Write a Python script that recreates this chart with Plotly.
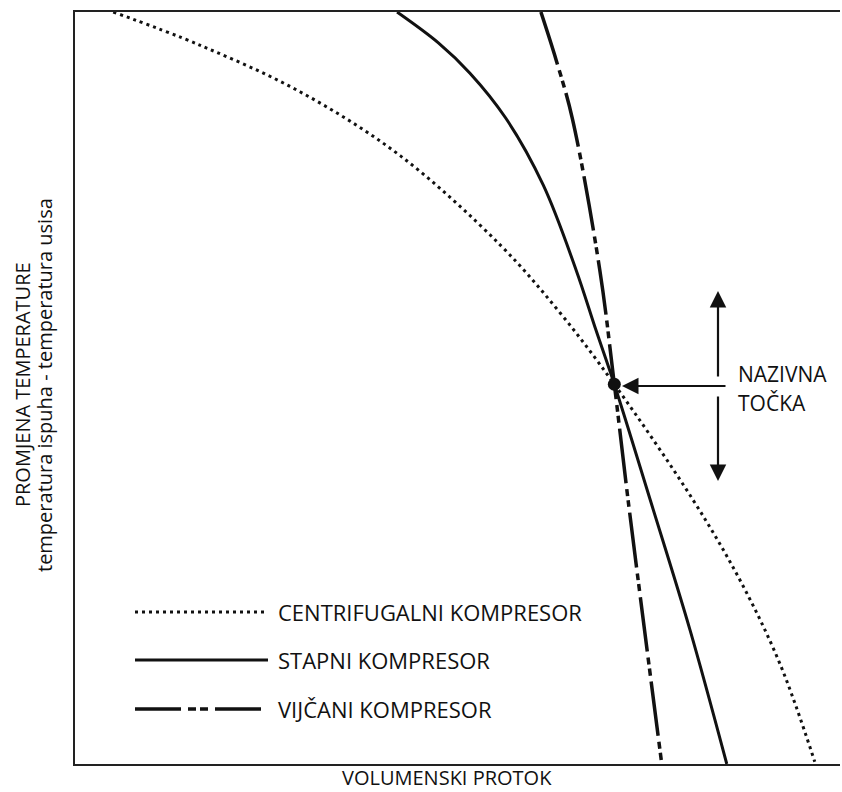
import plotly.graph_objects as go

# Data (arbitrary units, 0-10 on both axes)
centrifugal_x = [0.5, 1.63, 2.94, 4.25, 5.56, 6.34, 7.05, 8.08, 8.69, 9.22, 9.67]
centrifugal_y = [10.0, 9.56, 8.94, 8.09, 6.90, 6.00, 5.05, 3.51, 2.45, 1.32, 0.03]

stapni_x = [4.21, 4.75, 5.16, 5.63, 6.12, 6.55, 6.81, 7.05, 7.52, 8.04, 8.52]
stapni_y = [10.0, 9.59, 9.19, 8.59, 7.70, 6.57, 5.77, 5.05, 3.51, 1.78, 0.0]

vijcani_x = [6.09, 6.29, 6.50, 6.86, 7.05, 7.23, 7.67]
vijcani_y = [10.0, 9.36, 8.59, 6.57, 5.05, 3.51, 0.0]

rated_x = [7.05]
rated_y = [5.05]

legend_labels = ["CENTRIFUGALNI KOMPRESOR", "STAPNI KOMPRESOR", "VIJČANI KOMPRESOR"]
x_title = "VOLUMENSKI PROTOK"
y_title_1 = "PROMJENA TEMPERATURE"
y_title_2 = "temperatura ispuha - temperatura usisa"
point_label = ["NAZIVNA", "TOČKA"]

FONT = "Open Sans"
INK = "#111111"
DOT = "3px,4px"
DASHDOT = "55px,6px,7px,4px,7px,6px"
DASHDOT_LEG = "46px,7px,8px,4px,8px,7px"

fig = go.Figure()
fig.add_trace(go.Scatter(x=centrifugal_x, y=centrifugal_y, mode="lines",
                         line=dict(color=INK, width=3, dash=DOT, shape="spline"),
                         showlegend=False, hoverinfo="skip"))
fig.add_trace(go.Scatter(x=stapni_x, y=stapni_y, mode="lines",
                         line=dict(color=INK, width=3, shape="spline"),
                         showlegend=False, hoverinfo="skip"))
fig.add_trace(go.Scatter(x=vijcani_x, y=vijcani_y, mode="lines",
                         line=dict(color=INK, width=3.5, dash=DASHDOT, shape="spline"),
                         showlegend=False, hoverinfo="skip"))
fig.add_trace(go.Scatter(x=rated_x, y=rated_y, mode="markers",
                         marker=dict(color=INK, size=13),
                         showlegend=False, hoverinfo="skip"))

W, H = 842, 792
L, R, T, B = 75, 2, 12, 28
pw, ph = W - L - R, H - T - B


def px(xp):
    return (xp - L) / pw


def py(yp):
    return (H - B - yp) / ph


shapes = []
annotations = []
leg_rows = [612, 660, 709]
leg_dash = [DOT, "solid", DASHDOT_LEG]
leg_w = [3, 3, 3.5]
for lab, yrow, d, w in zip(legend_labels, leg_rows, leg_dash, leg_w):
    shapes.append(dict(type="line", xref="paper", yref="paper",
                       x0=px(135), x1=px(268), y0=py(yrow), y1=py(yrow),
                       line=dict(color=INK, width=w, dash=d)))
    annotations.append(dict(xref="paper", yref="paper", x=px(276), y=py(yrow),
                            text=lab, showarrow=False, xanchor="left", yanchor="middle",
                            font=dict(family=FONT, size=22, color=INK)))

# axis titles
annotations.append(dict(xref="paper", yref="paper", x=px(447), y=py(777),
                        text=x_title, showarrow=False, xanchor="center", yanchor="middle",
                        font=dict(family=FONT, size=20, color=INK)))
annotations.append(dict(xref="paper", yref="paper", x=px(23), y=py(385),
                        text=y_title_1, showarrow=False, textangle=-90,
                        xanchor="center", yanchor="middle",
                        font=dict(family=FONT, size=20, color=INK)))
annotations.append(dict(xref="paper", yref="paper", x=px(45), y=py(385),
                        text=y_title_2, showarrow=False, textangle=-90,
                        xanchor="center", yanchor="middle",
                        font=dict(family=FONT, size=20, color=INK)))

# rated point label
annotations.append(dict(xref="paper", yref="paper", x=px(736), y=py(374),
                        text=point_label[0], showarrow=False, xanchor="left", yanchor="middle",
                        font=dict(family=FONT, size=21, color=INK)))
annotations.append(dict(xref="paper", yref="paper", x=px(736), y=py(403),
                        text=point_label[1], showarrow=False, xanchor="left", yanchor="middle",
                        font=dict(family=FONT, size=21, color=INK)))

# arrows
arrow_common = dict(xref="paper", yref="paper", axref="pixel", ayref="pixel",
                    text="", showarrow=True, arrowhead=2, arrowsize=1.5,
                    arrowwidth=2.2, arrowcolor=INK, standoff=0, startstandoff=0)
annotations.append(dict(x=px(622), y=py(386), ax=105, ay=0, **arrow_common))
annotations.append(dict(x=px(718), y=py(291), ax=0, ay=87, **arrow_common))
annotations.append(dict(x=px(718), y=py(481), ax=0, ay=-86, **arrow_common))

fig.update_layout(
    width=W, height=H,
    margin=dict(l=L, r=R, t=T, b=B, pad=0),
    paper_bgcolor="white", plot_bgcolor="white",
    xaxis=dict(range=[0, 10], showgrid=False, zeroline=False, showticklabels=False,
               ticks="", showline=True, mirror=True, linecolor="#222222", linewidth=2,
               fixedrange=True),
    yaxis=dict(range=[0, 10], showgrid=False, zeroline=False, showticklabels=False,
               ticks="", showline=True, mirror=False, linecolor="#222222", linewidth=2,
               fixedrange=True),
    shapes=shapes,
    annotations=annotations,
)

fig.write_html("out.html",
               config={"displayModeBar": False},
               post_script="document.body.style.margin='0';document.body.style.overflow='hidden';")
